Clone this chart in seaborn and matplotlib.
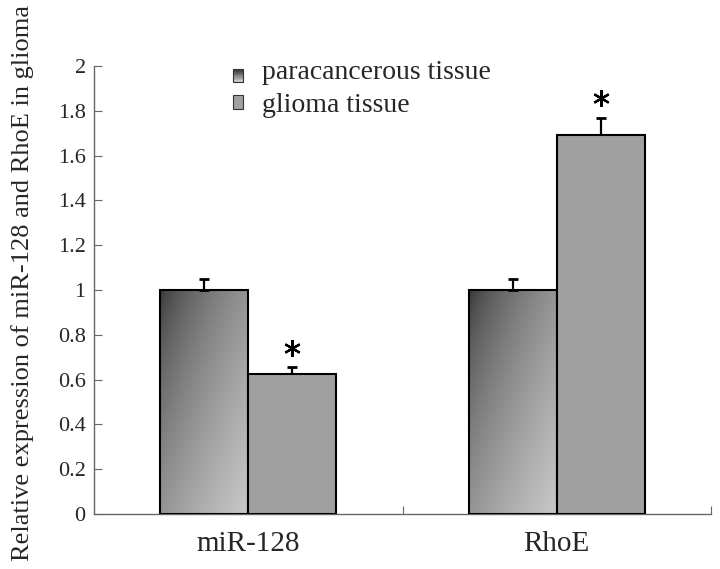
import numpy as np
import pandas as pd
import matplotlib
matplotlib.use("Agg")
import matplotlib.pyplot as plt
import seaborn as sns
from matplotlib.patches import Rectangle
from matplotlib.legend_handler import HandlerBase
from matplotlib.ticker import FuncFormatter

sns.set_style("ticks")
plt.rcParams['font.family'] = ['Liberation Serif', 'DejaVu Serif']

# data
genes = ['miR-128', 'RhoE']
groups = ['paracancerous tissue', 'glioma tissue']
para_vals = [1.0, 1.0]
para_err = [0.05, 0.05]
glioma_vals = [0.625, 1.69]
glioma_err = [0.03, 0.08]
y_ticks = [0, 0.2, 0.4, 0.6, 0.8, 1, 1.2, 1.4, 1.6, 1.8, 2]

df = pd.DataFrame({
    'gene': genes * 2,
    'group': [groups[0]] * 2 + [groups[1]] * 2,
    'value': para_vals + glioma_vals,
})

fig = plt.figure(figsize=(7.2, 5.69), dpi=100)
ax = fig.add_axes([0.1306, 0.0967, 0.857, 0.7873])

sns.barplot(data=df, x='gene', y='value', hue='group', order=genes,
            hue_order=groups, palette=['#808080', '#a0a0a0'], width=0.57,
            gap=0, edgecolor='black', linewidth=1.5, errorbar=None,
            legend=False, ax=ax)

# diagonal gradient for the paracancerous bars (dark top-left corner)
gx, gy = np.meshgrid(np.linspace(0, 1, 200), np.linspace(0, 1, 200))
grad = ((gx + gy) / 2) ** 0.6
cmap = matplotlib.colors.LinearSegmentedColormap.from_list('g', ['#303030', '#c8c8c8'])
for bar in ax.containers[0]:
    x0, y0 = bar.get_x(), bar.get_y()
    w, h = bar.get_width(), bar.get_height()
    bar.set_facecolor('none')
    bar.set_zorder(3)
    im = ax.imshow(grad, extent=[x0, x0 + w, y0, y0 + h], origin='upper',
                   cmap=cmap, vmin=0, vmax=1, aspect='auto', zorder=2)
    im.set_clip_path(bar)
for bar in ax.containers[1]:
    bar.set_zorder(3)

# upper error bars
for cont, errs in zip(ax.containers, [para_err, glioma_err]):
    for bar, e in zip(cont, errs):
        xc = bar.get_x() + bar.get_width() / 2
        top = bar.get_height()
        ax.errorbar(xc, top, yerr=[[0], [e]], fmt='none', ecolor='black',
                    elinewidth=1.6, capsize=3.5, capthick=2, zorder=2.5)

# significance asterisks
for bar, e in zip(ax.containers[1], glioma_err):
    xc = bar.get_x() + bar.get_width() / 2
    ax.plot(xc, bar.get_height() + e + 0.085, marker=(6, 2, 0), color='black',
            markersize=12, markeredgewidth=1.6, zorder=4)

ax.set_xlim(-0.5, 1.5)
ax.set_ylim(0, 2)
ax.set_yticks(y_ticks)
ax.yaxis.set_major_formatter(FuncFormatter(lambda v, p: f'{v:g}'))
ax.set_xticks([0.5, 1.5])
ax.set_xticklabels(['', ''])
ax.set_xticks([0, 1], minor=True)
ax.set_xticklabels(genes, minor=True, fontsize=21)
ax.tick_params(axis='x', which='minor', length=0, pad=12)
ax.tick_params(axis='x', which='major', direction='in', length=6, color='#666666')
ax.tick_params(axis='y', direction='in', length=6, labelsize=16, pad=6,
               color='#666666')
ax.set_xlabel('')
ax.set_ylabel('Relative expression of miR-128 and RhoE in glioma', fontsize=19)
ax.yaxis.set_label_coords(-0.098, 0.516)
for s in ['top', 'right']:
    ax.spines[s].set_visible(False)
for s in ['left', 'bottom']:
    ax.spines[s].set_color('#666666')
    ax.spines[s].set_linewidth(1.0)


class GradientHandler(HandlerBase):
    def create_artists(self, legend, orig, xd, yd, width, height, fontsize, trans):
        arts = []
        n = 8
        for i in range(n):
            c = cmap(i / (n - 1))
            arts.append(Rectangle((xd, yd + height * (n - 1 - i) / n), width, height / n,
                                  facecolor=c, edgecolor='none', transform=trans))
        arts.append(Rectangle((xd, yd), width, height, facecolor='none',
                              edgecolor='#333333', lw=0.8, transform=trans))
        return arts


h1 = Rectangle((0, 0), 1, 1)
h2 = Rectangle((0, 0), 1, 1, facecolor='#a0a0a0', edgecolor='#333333', lw=0.8)
ax.legend([h1, h2], groups, handler_map={h1: GradientHandler()},
          loc='upper left', bbox_to_anchor=(0.225, 1.014), frameon=False,
          fontsize=20, handlelength=0.36, handleheight=0.36, handletextpad=0.7,
          labelspacing=0.3, borderpad=0, borderaxespad=0)

fig.savefig('out.png', dpi=100)
